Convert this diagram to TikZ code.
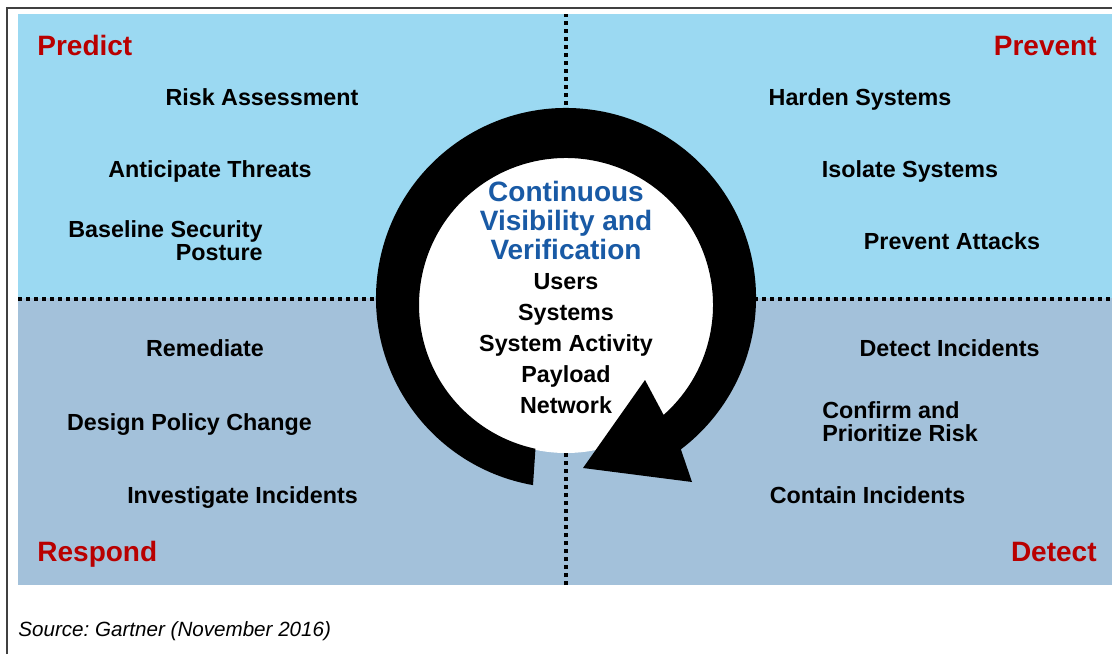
\documentclass[tikz,border=0pt]{standalone}
\usepackage{fontspec}
\setmainfont{Liberation Sans}
\definecolor{topblue}{RGB}{155,217,242}
\definecolor{lowblue}{RGB}{163,193,218}
\definecolor{phasered}{RGB}{185,0,0}
\definecolor{titleblue}{RGB}{25,90,165}
\tikzset{
  phase/.style={font=\fontsize{14}{16}\selectfont\bfseries, text=phasered, inner sep=0pt, text height=0.72em, text depth=0pt},
  task/.style={font=\fontsize{11.65}{11.5}\selectfont\bfseries, inner sep=0pt, text height=0.72em, text depth=0pt},
  tasklines/.style={font=\fontsize{11.65}{11.5}\selectfont\bfseries, inner sep=0pt},
  gridline/.style={line width=2pt, dash pattern=on 2pt off 2pt},
}
\begin{document}
\begin{tikzpicture}[x=0.5pt,y=0.5pt]
\useasboundingbox (0,0) rectangle (1112,654);

% frame and quadrants
\fill[topblue] (18,356) rectangle (1112,640);
\fill[lowblue] (18,69) rectangle (1112,356);
\draw[line width=0.8pt, black!75] (7,0) -- (7,646) -- (1112,646);
\draw[gridline] (18,355) -- (1112,355);
\draw[gridline] (566,69) -- (566,640);

% cycle
\fill[white] (566,349) circle[radius=148];
\fill[black] (566,356) ++(260:190) arc[start angle=260, end angle=-52.8, radius=190]
  -- (692,172) -- (583,186) -- (645,274) -- (663.6,239.1)
  arc[start angle=-48.4, end angle=258, radius=147] -- cycle;

% phases
\node[phase, anchor=west] (predict) at (37,606) {Predict};
\node[phase, anchor=east] (prevent) at (1097,606) {Prevent};
\node[phase, anchor=west] (respond) at (37,100) {Respond};
\node[phase, anchor=east] (detect) at (1097,100) {Detect};

% predict
\node[task] (risk) at (262,556) {Risk Assessment};
\node[task] (anticipate) at (210,484) {Anticipate Threats};
\node[tasklines, anchor=east, align=right] (baseline) at (263,413) {Baseline Security\\Posture};
% prevent
\node[task] (harden) at (860,556) {Harden Systems};
\node[task] (isolate) at (910,484) {Isolate Systems};
\node[task] (attacks) at (952,412) {Prevent Attacks};
% respond
\node[task] (remediate) at (205,305) {Remediate};
\node[task] (policy) at (189.5,231) {Design Policy Change};
\node[task] (investigate) at (242.5,158) {Investigate Incidents};
% detect
\node[task] (incidents) at (949.5,305) {Detect Incidents};
\node[tasklines, anchor=west, align=left] (confirm) at (822,232.5) {Confirm and\\Prioritize Risk};
\node[task] (contain) at (867.5,158) {Contain Incidents};

% centre
\node[inner sep=0pt, align=center, text=titleblue, font=\fontsize{14}{14.3}\selectfont\bfseries] (title) at (566,433.5) {Continuous\\Visibility and\\Verification};
\node[inner sep=0pt, align=center, font=\fontsize{11.65}{15.4}\selectfont\bfseries] (objects) at (566,310.5) {Users\\Systems\\System Activity\\Payload\\Network};

\node[inner sep=0pt, anchor=west, font=\fontsize{10.3}{12}\selectfont\itshape] (source) at (18,23) {\frenchspacing Source: Gartner (November 2016)};
\end{tikzpicture}
\end{document}
